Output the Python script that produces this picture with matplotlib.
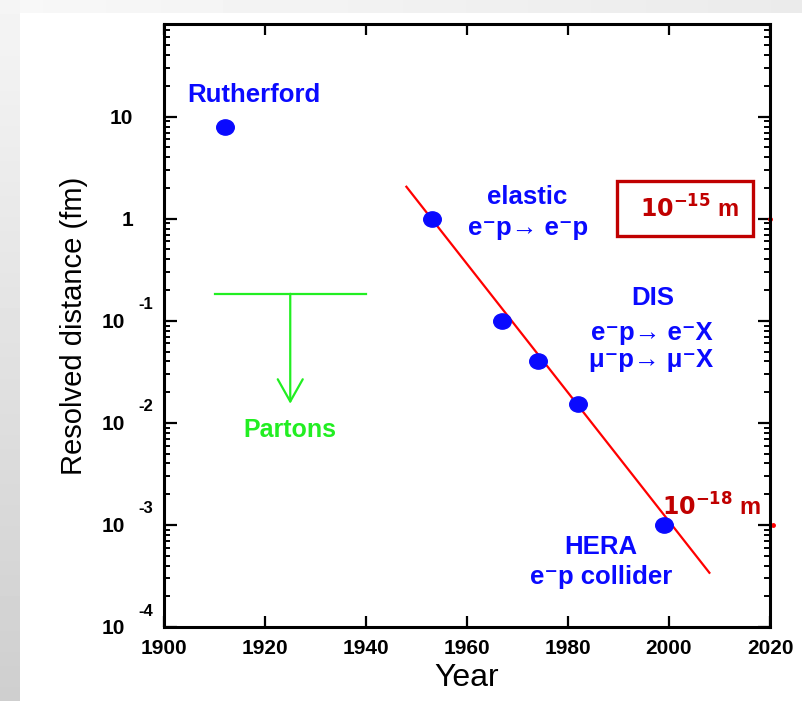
import numpy as np
import matplotlib
matplotlib.use("Agg")
import matplotlib.pyplot as plt
from matplotlib.markers import MarkerStyle
from matplotlib.transforms import Affine2D
from matplotlib.patches import Rectangle

plt.rcParams['font.family'] = ['Liberation Sans', 'DejaVu Sans']

# measured points (year, resolved distance in fm)
rutherford_year = [1912]
rutherford_dist = [8.0]
exp_years = [1953, 1967, 1974, 1982, 1999]
exp_dist = [1.0, 0.1, 0.04, 0.0154, 0.001]

# fitted trend line ends
fit_years = [1948, 2008]
fit_dist = [2.06, 3.4e-4]

# parton bracket
parton_span = [1910, 1940]
parton_level = 0.184
parton_x = 1925
parton_tip = 0.0154

# ticks
xticks = [1900, 1920, 1940, 1960, 1980, 2000, 2020]
yticks = [1e-4, 1e-3, 1e-2, 1e-1, 1, 10]
ytick_base = ['10', '10', '10', '10', '1', '10']
ytick_exp = ['-4', '-3', '-2', '-1', '', '']

blue = '#0a0aff'
green = '#22ee22'
dred = '#c00000'
sup = '\u207b'

fig = plt.figure(figsize=(8.02, 7.01), dpi=100, facecolor='white')

# grey frame around the slide
bg_left = fig.add_axes([0, 0, 20 / 802, 1])
bg_left.imshow(np.linspace(0.96, 0.81, 100).reshape(-1, 1), cmap='gray', vmin=0, vmax=1,
               aspect='auto', extent=[0, 1, 0, 1])
bg_left.axis('off')
bg_top = fig.add_axes([20 / 802, 1 - 13 / 701, 1 - 20 / 802, 13 / 701])
bg_top.imshow(np.linspace(0.97, 0.92, 100).reshape(1, -1), cmap='gray', vmin=0, vmax=1,
              aspect='auto', extent=[0, 1, 0, 1])
bg_top.axis('off')

ax = fig.add_axes([164 / 802, 1 - 627 / 701, (770 - 164) / 802, (627 - 24) / 701])
ax.set_yscale('log')
ax.set_xlim(1900, 2020)
ax.set_ylim(1e-4, 81)

for s in ax.spines.values():
    s.set_linewidth(2.2)

ax.set_xticks(xticks)
ax.set_xticklabels([str(x) for x in xticks], fontweight='bold')
ax.set_yticks(yticks)
ax.set_yticklabels(ytick_base, fontweight='bold')
ax.tick_params(which='both', direction='in', top=True, right=True, labelsize=15, width=1.6)
ax.tick_params(axis='x', which='major', length=8, pad=9)
ax.tick_params(axis='y', which='major', length=9)
ax.tick_params(axis='y', which='minor', length=4.5, width=1.4)
ax.minorticks_off()
ax.yaxis.set_minor_locator(matplotlib.ticker.LogLocator(base=10, subs=np.arange(2, 10)))
ax.yaxis.set_minor_formatter(matplotlib.ticker.NullFormatter())

for tick, e in zip(ax.yaxis.get_major_ticks(), ytick_exp):
    tick.set_pad(28 if e else 22)
for v, e in zip(yticks, ytick_exp):
    if e:
        ax.annotate(e, xy=(0, v), xycoords=ax.get_yaxis_transform(),
                    xytext=(-26, 16), textcoords='offset pixels', fontweight='bold',
                    ha='left', va='center', fontsize=12, annotation_clip=False)

ax.set_xlabel('Year', fontsize=23, labelpad=3)
ax.set_ylabel('Resolved distance (fm)', fontsize=21, labelpad=10)

# trend and data
ax.plot(fit_years, fit_dist, color='red', lw=1.6, zorder=2)
m = MarkerStyle('o', transform=Affine2D().scale(1.15, 1.0))
ax.plot(rutherford_year, rutherford_dist, ls='none', marker=m, ms=11, color=blue, zorder=3)
ax.plot(exp_years, exp_dist, ls='none', marker=m, ms=11, color=blue, zorder=3)

# small red marks on the right edge
ax.plot([2020, 2020.5], [1.0, 1e-3], ls='none', marker='o', ms=2.5, color='red', clip_on=False)

# partons bracket
ax.plot(parton_span, [parton_level, parton_level], color=green, lw=1.6)
ax.annotate('', xy=(parton_x, parton_tip), xytext=(parton_x, parton_level),
            arrowprops=dict(arrowstyle='->,head_length=1.6,head_width=0.9',
                            color=green, lw=1.6, shrinkA=0, shrinkB=0))
ax.text(parton_x, 0.0085, 'Partons', color=green, fontsize=18, fontweight='bold',
        ha='center', va='center')

# labels
kw = dict(color=blue, fontsize=18.5, fontweight='bold', ha='center', va='center')
ax.text(1917.8, 16.5, 'Rutherford', **kw)
ax.text(1972, 1.64, 'elastic', **kw)
ax.text(1972, 0.816, f'e{sup}p\u2192 e{sup}p', **kw)
ax.text(1996.8, 0.168, 'DIS', **kw)
ax.text(1996.5, 0.0762, f'e{sup}p\u2192 e{sup}X', **kw)
ax.text(1996.5, 0.0415, f'μ{sup}p\u2192 μ{sup}X', **kw)
ax.text(1986.5, 6.08e-4, 'HERA', **kw)
ax.text(1986.5, 3.09e-4, f'e{sup}p collider', **kw)

ax.text(2004, 1.25, r'$\mathbf{10^{-15}}$ m', color=dred, fontsize=17, ha='center', va='center',
        fontweight='bold')
box = Rectangle((617 / 802, 1 - 236 / 701), (753 - 617) / 802, (236 - 181) / 701,
                transform=fig.transFigure, fill=False, ec=dred, lw=2.4)
fig.add_artist(box)
ax.text(2008.4, 0.0015, r'$\mathbf{10^{-18}}$ m', color=dred, fontsize=17, ha='center', va='center',
        fontweight='bold')

fig.savefig('out.png', dpi=100, facecolor=fig.get_facecolor())
